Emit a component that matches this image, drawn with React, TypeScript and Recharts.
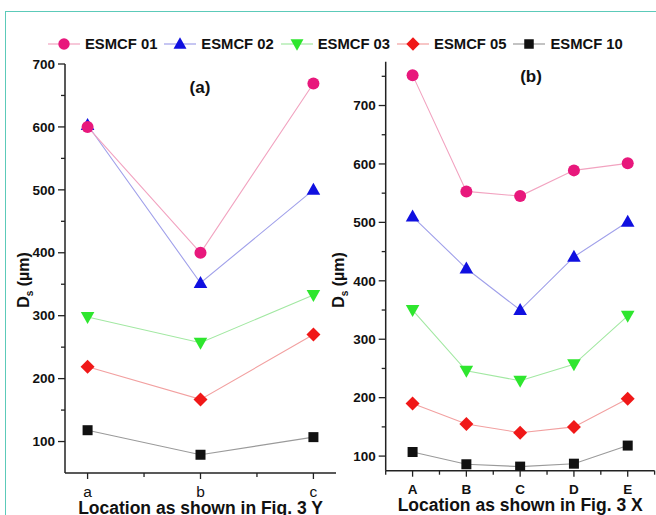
import React from 'react'
import { LineChart, Line, XAxis, YAxis } from 'recharts'

const FONT = "'Liberation Sans', Arial, Helvetica, sans-serif"
const AXIS = '#222'

// panel (a): locations along Y
const CATS_A = ['a', 'b', 'c']
const A_01 = [600, 400, 669]
const A_02 = [603, 352, 500]
const A_03 = [298, 257, 333]
const A_05 = [219, 167, 270]
const A_10 = [118, 79, 107]

// panel (b): locations along X
const CATS_B = ['A', 'B', 'C', 'D', 'E']
const B_01 = [752, 553, 545, 589, 601]
const B_02 = [510, 421, 350, 441, 501]
const B_03 = [350, 246, 229, 257, 340]
const B_05 = [190, 155, 140, 150, 198]
const B_10 = [107, 86, 82, 87, 118]

const A_YTICKS = [100, 150, 200, 250, 300, 350, 400, 450, 500, 550, 600, 650, 700]
const B_YTICKS = [100, 150, 200, 250, 300, 350, 400, 450, 500, 550, 600, 650, 700, 750]
const A_XTICKS = [0, 0.5, 1, 1.5, 2]
const B_XTICKS = [-0.5, 0, 0.5, 1, 1.5, 2, 2.5, 3, 3.5, 4, 4.5]

type Shape = 'circle' | 'up' | 'down' | 'diamond' | 'square'

const SERIES: { key: string; name: string; line: string; fill: string; shape: Shape }[] = [
  { key: 's01', name: 'ESMCF 01', line: '#f2a3c0', fill: '#e8187c', shape: 'circle' },
  { key: 's02', name: 'ESMCF 02', line: '#a0a0ea', fill: '#1010e0', shape: 'up' },
  { key: 's03', name: 'ESMCF 03', line: '#a2e8a2', fill: '#2ee62e', shape: 'down' },
  { key: 's05', name: 'ESMCF 05', line: '#f2a0a0', fill: '#f01818', shape: 'diamond' },
  { key: 's10', name: 'ESMCF 10', line: '#9a9a9a', fill: '#111111', shape: 'square' },
]

const buildRows = (n: number, s01: number[], s02: number[], s03: number[], s05: number[], s10: number[]) =>
  Array.from({ length: n }, (_, i) => ({ x: i, s01: s01[i], s02: s02[i], s03: s03[i], s05: s05[i], s10: s10[i] }))

const rowsA = buildRows(CATS_A.length, A_01, A_02, A_03, A_05, A_10)
const rowsB = buildRows(CATS_B.length, B_01, B_02, B_03, B_05, B_10)

const Marker = ({ cx, cy, shape, fill, scale = 1 }: any) => {
  if (cx == null || cy == null) return null
  const s = scale
  switch (shape) {
    case 'circle':
      return <circle cx={cx} cy={cy} r={6 * s} fill={fill} />
    case 'up':
      return <polygon points={`${cx},${cy - 7 * s} ${cx + 6.8 * s},${cy + 5 * s} ${cx - 6.8 * s},${cy + 5 * s}`} fill={fill} />
    case 'down':
      return <polygon points={`${cx},${cy + 7 * s} ${cx + 6.8 * s},${cy - 5 * s} ${cx - 6.8 * s},${cy - 5 * s}`} fill={fill} />
    case 'diamond':
      return <polygon points={`${cx},${cy - 7 * s} ${cx + 7 * s},${cy} ${cx},${cy + 7 * s} ${cx - 7 * s},${cy}`} fill={fill} />
    default:
      return <rect x={cx - 5 * s} y={cy - 5 * s} width={10 * s} height={10 * s} fill={fill} />
  }
}

const XTick = ({ x, y, payload, labels, bold, size, dy }: any) => {
  const v = payload.value
  const major = Number.isInteger(v)
  return (
    <g>
      <line x1={x} x2={x} y1={y} y2={y + (major ? 6 : 4)} stroke={AXIS} strokeWidth={1.3} />
      {major && (
        <text x={x} y={y + dy} textAnchor="middle" fontSize={size} fontWeight={bold ? 'bold' : 'normal'} fontFamily={FONT} fill="#111">
          {labels[v]}
        </text>
      )}
    </g>
  )
}

const YTick = ({ x, y, payload }: any) => {
  const v = payload.value
  const major = v % 100 === 0
  return (
    <g>
      <line x1={x} x2={x - (major ? 7 : 4)} y1={y} y2={y} stroke={AXIS} strokeWidth={1.3} />
      {major && (
        <text x={x - 10} y={y} dy="0.35em" textAnchor="end" fontSize={13.5} fontWeight="bold" fontFamily={FONT} fill="#111">
          {v}
        </text>
      )}
    </g>
  )
}

const YTitle = ({ cx, cy }: { cx: number; cy: number }) => (
  <text
    transform={`translate(${cx},${cy}) rotate(-90)`}
    textAnchor="middle"
    dy="0.35em"
    fontSize={16}
    fontWeight="bold"
    fontFamily={FONT}
    fill="#111"
  >
    D<tspan fontSize={10} dy={4}>s</tspan>
    <tspan dy={-4}> (µm)</tspan>
  </text>
)

const XTitle = ({ viewBox, text }: any) => (
  <text
    x={viewBox.x + viewBox.width / 2}
    y={viewBox.y + 40.5}
    textAnchor="middle"
    fontSize={17.5}
    fontWeight="bold"
    fontFamily={FONT}
    fill="#111"
  >
    {text}
  </text>
)

const seriesLines = () =>
  [...SERIES].reverse().map((s) => (
    <Line
      key={s.key}
      type="linear"
      dataKey={s.key}
      stroke={s.line}
      strokeWidth={1.1}
      isAnimationActive={false}
      activeDot={false}
      dot={(p: any) => <Marker key={`${s.key}-${p.index}`} cx={p.cx} cy={p.cy} shape={s.shape} fill={s.fill} />}
    />
  ))

const Legend = () => (
  <div style={{ position: 'absolute', left: 48, top: 35, height: 18, display: 'flex', alignItems: 'center', gap: 7 }}>
    {SERIES.map((s) => (
      <div key={s.key} style={{ display: 'flex', alignItems: 'center', gap: 5 }}>
        <svg width={32} height={18}>
          <line x1={0} x2={32} y1={9} y2={9} stroke={s.line} strokeWidth={1.2} />
          <Marker cx={16} cy={9} shape={s.shape} fill={s.fill} scale={0.95} />
        </svg>
        <span style={{ fontFamily: FONT, fontWeight: 'bold', fontSize: 14.8, color: '#111', whiteSpace: 'nowrap' }}>{s.name}</span>
      </div>
    ))}
  </div>
)

export default function App() {
  return (
    <div style={{ position: 'absolute', left: 0, top: 0, width: 656, height: 515, overflow: 'hidden', background: '#fff', fontFamily: FONT }}>
      <div style={{ position: 'absolute', left: 5, top: 11, right: -10, bottom: -10, borderTop: '1.5px solid #5ccab9', borderLeft: '1.5px solid #5ccab9' }} />
      <Legend />

      <div style={{ position: 'absolute', left: 0, top: 0 }}>
        <LineChart width={340} height={515} data={rowsA} margin={{ top: 64, right: 4, bottom: 12, left: 20 }}>
          <XAxis
            type="number"
            dataKey="x"
            domain={[-0.2, 2.2]}
            ticks={A_XTICKS}
            interval={0}
            allowDataOverflow
            height={30}
            tickSize={0}
            tickMargin={0}
            tickLine={false}
            axisLine={{ stroke: AXIS, strokeWidth: 1.5 }}
            tick={(p: any) => <XTick {...p} labels={CATS_A} bold={false} size={15.5} dy={24} />}
            label={{ content: (p: any) => <XTitle {...p} text="Location as shown in Fig. 3 Y" /> }}
          />
          <YAxis
            type="number"
            domain={[50, 700]}
            ticks={A_YTICKS}
            interval={0}
            allowDataOverflow
            width={45}
            tickSize={0}
            tickMargin={0}
            tickLine={false}
            axisLine={{ stroke: AXIS, strokeWidth: 1.5 }}
            tick={(p: any) => <YTick {...p} />}
            label={{ content: () => <YTitle cx={23} cy={280} /> }}
          />
          {seriesLines()}
        </LineChart>
      </div>

      <div style={{ position: 'absolute', left: 320, top: 0 }}>
        <LineChart width={336} height={515} data={rowsB} margin={{ top: 61.7, right: 1.4, bottom: 14.3, left: 20.7 }}>
          <XAxis
            type="number"
            dataKey="x"
            domain={[-0.5, 4.5]}
            ticks={B_XTICKS}
            interval={0}
            allowDataOverflow
            height={30}
            tickSize={0}
            tickMargin={0}
            tickLine={false}
            axisLine={{ stroke: AXIS, strokeWidth: 1.5 }}
            tick={(p: any) => <XTick {...p} labels={CATS_B} bold size={13.5} dy={23.6} />}
            label={{ content: (p: any) => <XTitle {...p} text="Location as shown in Fig. 3 X" /> }}
          />
          <YAxis
            type="number"
            domain={[75, 775]}
            ticks={B_YTICKS}
            interval={0}
            allowDataOverflow
            width={45}
            tickSize={0}
            tickMargin={0}
            tickLine={false}
            axisLine={{ stroke: AXIS, strokeWidth: 1.5 }}
            tick={(p: any) => <YTick {...p} />}
            label={{ content: () => <YTitle cx={18.5} cy={280} /> }}
          />
          {seriesLines()}
        </LineChart>
      </div>

      <div style={{ position: 'absolute', left: 180, top: 78, width: 40, textAlign: 'center', fontWeight: 'bold', fontSize: 17, color: '#111' }}>(a)</div>
      <div style={{ position: 'absolute', left: 511, top: 67, width: 40, textAlign: 'center', fontWeight: 'bold', fontSize: 17, color: '#111' }}>(b)</div>
    </div>
  )
}
